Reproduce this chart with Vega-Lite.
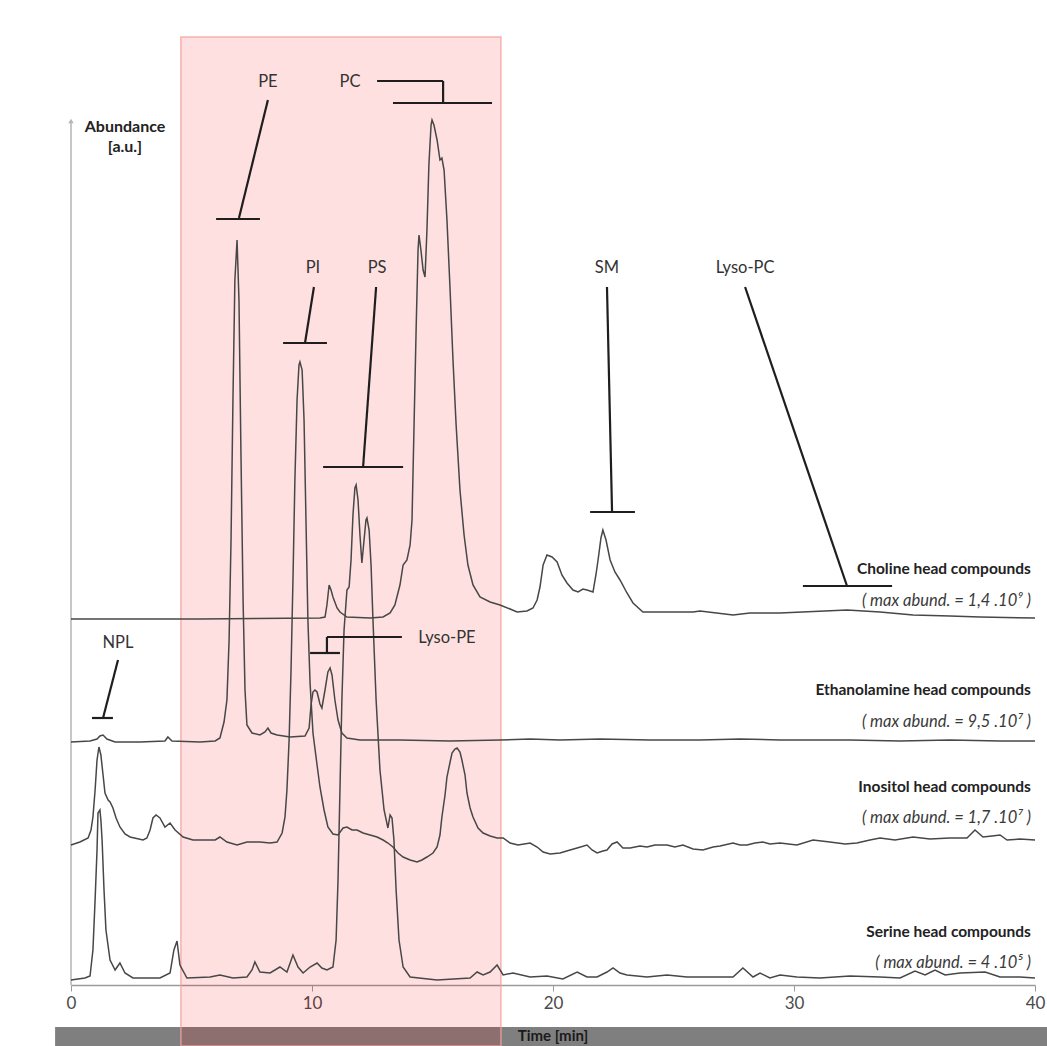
{
 "$schema": "https://vega.github.io/schema/vega-lite/v6.json",
 "width": 964, "height": 985,
 "autosize": {"type": "none"},
 "padding": {"left": 71, "top": 0, "right": 12, "bottom": 61},
 "background": "white",
 "config": {"view": {"stroke": null}, "font": "Lato"},
 "datasets": {
  "traces": [
   {"s":"Choline","x":0,"y":366},{"s":"Choline","x":5.35,"y":366},{"s":"Choline","x":10.33,"y":367},{"s":"Choline","x":10.54,"y":368},{"s":"Choline","x":10.62,"y":380},{"s":"Choline","x":10.71,"y":400},{"s":"Choline","x":10.79,"y":395},{"s":"Choline","x":10.87,"y":388},{"s":"Choline","x":11.04,"y":377},{"s":"Choline","x":11.16,"y":373},{"s":"Choline","x":11.45,"y":368},{"s":"Choline","x":12.41,"y":367},{"s":"Choline","x":12.95,"y":368},{"s":"Choline","x":13.24,"y":372},{"s":"Choline","x":13.44,"y":380},{"s":"Choline","x":13.65,"y":400},{"s":"Choline","x":13.78,"y":420},{"s":"Choline","x":13.94,"y":425},{"s":"Choline","x":14.07,"y":440},{"s":"Choline","x":14.15,"y":465},{"s":"Choline","x":14.23,"y":555},{"s":"Choline","x":14.32,"y":655},{"s":"Choline","x":14.40,"y":735},{"s":"Choline","x":14.44,"y":750},{"s":"Choline","x":14.52,"y":735},{"s":"Choline","x":14.61,"y":715},{"s":"Choline","x":14.69,"y":708},{"s":"Choline","x":14.77,"y":755},{"s":"Choline","x":14.85,"y":820},{"s":"Choline","x":14.94,"y":860},{"s":"Choline","x":14.98,"y":865},{"s":"Choline","x":15.06,"y":860},{"s":"Choline","x":15.19,"y":845},{"s":"Choline","x":15.31,"y":825},{"s":"Choline","x":15.39,"y":827},{"s":"Choline","x":15.48,"y":815},{"s":"Choline","x":15.60,"y":765},{"s":"Choline","x":15.73,"y":695},{"s":"Choline","x":15.85,"y":625},{"s":"Choline","x":15.98,"y":560},{"s":"Choline","x":16.14,"y":495},{"s":"Choline","x":16.31,"y":450},{"s":"Choline","x":16.47,"y":420},{"s":"Choline","x":16.68,"y":400},{"s":"Choline","x":16.97,"y":388},{"s":"Choline","x":17.39,"y":383},{"s":"Choline","x":17.80,"y":380},{"s":"Choline","x":18.22,"y":376},{"s":"Choline","x":18.51,"y":373},{"s":"Choline","x":18.92,"y":374},{"s":"Choline","x":19.17,"y":377},{"s":"Choline","x":19.34,"y":385},{"s":"Choline","x":19.46,"y":398},{"s":"Choline","x":19.59,"y":420},{"s":"Choline","x":19.75,"y":430},{"s":"Choline","x":19.96,"y":428},{"s":"Choline","x":20.17,"y":423},{"s":"Choline","x":20.37,"y":410},{"s":"Choline","x":20.58,"y":402},{"s":"Choline","x":20.83,"y":395},{"s":"Choline","x":21.04,"y":393},{"s":"Choline","x":21.24,"y":396},{"s":"Choline","x":21.41,"y":395},{"s":"Choline","x":21.66,"y":393},{"s":"Choline","x":21.78,"y":410},{"s":"Choline","x":21.87,"y":425},{"s":"Choline","x":21.99,"y":447},{"s":"Choline","x":22.07,"y":455},{"s":"Choline","x":22.20,"y":445},{"s":"Choline","x":22.37,"y":425},{"s":"Choline","x":22.57,"y":413},{"s":"Choline","x":22.78,"y":405},{"s":"Choline","x":23.07,"y":392},{"s":"Choline","x":23.32,"y":382},{"s":"Choline","x":23.73,"y":373},{"s":"Choline","x":24.44,"y":373},{"s":"Choline","x":25.81,"y":373},{"s":"Choline","x":26.10,"y":374},{"s":"Choline","x":27.47,"y":370},{"s":"Choline","x":28.17,"y":372},{"s":"Choline","x":29.42,"y":372},{"s":"Choline","x":32.2,"y":375},{"s":"Choline","x":33.57,"y":373},{"s":"Choline","x":34.94,"y":370},{"s":"Choline","x":36.47,"y":369},{"s":"Choline","x":37.72,"y":368},{"s":"Choline","x":40,"y":367},
   {"s":"Ethanolamine","x":0,"y":243},{"s":"Ethanolamine","x":0.79,"y":244},{"s":"Ethanolamine","x":1.08,"y":246},{"s":"Ethanolamine","x":1.20,"y":249},{"s":"Ethanolamine","x":1.33,"y":250},{"s":"Ethanolamine","x":1.49,"y":246},{"s":"Ethanolamine","x":1.83,"y":243},{"s":"Ethanolamine","x":2.86,"y":243},{"s":"Ethanolamine","x":3.90,"y":244},{"s":"Ethanolamine","x":4.02,"y":248},{"s":"Ethanolamine","x":4.19,"y":244},{"s":"Ethanolamine","x":5.35,"y":243},{"s":"Ethanolamine","x":5.98,"y":244},{"s":"Ethanolamine","x":6.18,"y":247},{"s":"Ethanolamine","x":6.35,"y":263},{"s":"Ethanolamine","x":6.47,"y":285},{"s":"Ethanolamine","x":6.56,"y":345},{"s":"Ethanolamine","x":6.64,"y":445},{"s":"Ethanolamine","x":6.72,"y":585},{"s":"Ethanolamine","x":6.80,"y":705},{"s":"Ethanolamine","x":6.89,"y":745},{"s":"Ethanolamine","x":6.97,"y":685},{"s":"Ethanolamine","x":7.05,"y":535},{"s":"Ethanolamine","x":7.14,"y":385},{"s":"Ethanolamine","x":7.22,"y":295},{"s":"Ethanolamine","x":7.30,"y":260},{"s":"Ethanolamine","x":7.51,"y":252},{"s":"Ethanolamine","x":7.84,"y":250},{"s":"Ethanolamine","x":8.05,"y":253},{"s":"Ethanolamine","x":8.17,"y":257},{"s":"Ethanolamine","x":8.30,"y":252},{"s":"Ethanolamine","x":8.55,"y":250},{"s":"Ethanolamine","x":9.09,"y":248},{"s":"Ethanolamine","x":9.71,"y":249},{"s":"Ethanolamine","x":9.88,"y":257},{"s":"Ethanolamine","x":9.96,"y":280},{"s":"Ethanolamine","x":10.04,"y":293},{"s":"Ethanolamine","x":10.12,"y":295},{"s":"Ethanolamine","x":10.21,"y":293},{"s":"Ethanolamine","x":10.33,"y":281},{"s":"Ethanolamine","x":10.41,"y":277},{"s":"Ethanolamine","x":10.54,"y":295},{"s":"Ethanolamine","x":10.66,"y":313},{"s":"Ethanolamine","x":10.75,"y":317},{"s":"Ethanolamine","x":10.83,"y":310},{"s":"Ethanolamine","x":10.95,"y":285},{"s":"Ethanolamine","x":11.08,"y":265},{"s":"Ethanolamine","x":11.24,"y":252},{"s":"Ethanolamine","x":11.45,"y":247},{"s":"Ethanolamine","x":11.99,"y":245},{"s":"Ethanolamine","x":13.65,"y":245},{"s":"Ethanolamine","x":15.73,"y":244},{"s":"Ethanolamine","x":17.80,"y":245},{"s":"Ethanolamine","x":19.05,"y":246},{"s":"Ethanolamine","x":20.29,"y":245},{"s":"Ethanolamine","x":21.95,"y":246},{"s":"Ethanolamine","x":24.02,"y":245},{"s":"Ethanolamine","x":26.10,"y":245},{"s":"Ethanolamine","x":27.76,"y":246},{"s":"Ethanolamine","x":29.42,"y":245},{"s":"Ethanolamine","x":32.32,"y":245},{"s":"Ethanolamine","x":34.40,"y":244},{"s":"Ethanolamine","x":36.47,"y":245},{"s":"Ethanolamine","x":38.55,"y":244},{"s":"Ethanolamine","x":40,"y":244},
   {"s":"Inositol","x":0,"y":140},{"s":"Inositol","x":0.37,"y":143},{"s":"Inositol","x":0.71,"y":147},{"s":"Inositol","x":0.83,"y":155},{"s":"Inositol","x":0.91,"y":168},{"s":"Inositol","x":1.00,"y":195},{"s":"Inositol","x":1.08,"y":225},{"s":"Inositol","x":1.16,"y":238},{"s":"Inositol","x":1.24,"y":230},{"s":"Inositol","x":1.33,"y":210},{"s":"Inositol","x":1.41,"y":192},{"s":"Inositol","x":1.54,"y":185},{"s":"Inositol","x":1.62,"y":183},{"s":"Inositol","x":1.74,"y":177},{"s":"Inositol","x":1.87,"y":167},{"s":"Inositol","x":2.03,"y":158},{"s":"Inositol","x":2.24,"y":151},{"s":"Inositol","x":2.45,"y":148},{"s":"Inositol","x":2.99,"y":145},{"s":"Inositol","x":3.15,"y":147},{"s":"Inositol","x":3.28,"y":155},{"s":"Inositol","x":3.40,"y":167},{"s":"Inositol","x":3.53,"y":170},{"s":"Inositol","x":3.69,"y":167},{"s":"Inositol","x":3.90,"y":158},{"s":"Inositol","x":4.11,"y":162},{"s":"Inositol","x":4.32,"y":155},{"s":"Inositol","x":4.65,"y":148},{"s":"Inositol","x":5.06,"y":145},{"s":"Inositol","x":5.64,"y":145},{"s":"Inositol","x":5.98,"y":145},{"s":"Inositol","x":6.18,"y":148},{"s":"Inositol","x":6.47,"y":143},{"s":"Inositol","x":6.89,"y":140},{"s":"Inositol","x":7.30,"y":143},{"s":"Inositol","x":7.84,"y":143},{"s":"Inositol","x":8.26,"y":142},{"s":"Inositol","x":8.55,"y":143},{"s":"Inositol","x":8.76,"y":152},{"s":"Inositol","x":8.88,"y":168},{"s":"Inositol","x":8.96,"y":195},{"s":"Inositol","x":9.05,"y":245},{"s":"Inositol","x":9.13,"y":315},{"s":"Inositol","x":9.21,"y":405},{"s":"Inositol","x":9.29,"y":505},{"s":"Inositol","x":9.38,"y":585},{"s":"Inositol","x":9.46,"y":620},{"s":"Inositol","x":9.50,"y":623},{"s":"Inositol","x":9.59,"y":615},{"s":"Inositol","x":9.67,"y":565},{"s":"Inositol","x":9.75,"y":465},{"s":"Inositol","x":9.83,"y":365},{"s":"Inositol","x":9.92,"y":302},{"s":"Inositol","x":10.04,"y":252},{"s":"Inositol","x":10.21,"y":220},{"s":"Inositol","x":10.33,"y":198},{"s":"Inositol","x":10.50,"y":175},{"s":"Inositol","x":10.66,"y":158},{"s":"Inositol","x":10.87,"y":151},{"s":"Inositol","x":11.08,"y":150},{"s":"Inositol","x":11.29,"y":157},{"s":"Inositol","x":11.45,"y":158},{"s":"Inositol","x":11.66,"y":155},{"s":"Inositol","x":11.87,"y":155},{"s":"Inositol","x":12.12,"y":152},{"s":"Inositol","x":12.41,"y":150},{"s":"Inositol","x":12.70,"y":148},{"s":"Inositol","x":12.95,"y":145},{"s":"Inositol","x":13.15,"y":142},{"s":"Inositol","x":13.36,"y":138},{"s":"Inositol","x":13.57,"y":132},{"s":"Inositol","x":13.78,"y":128},{"s":"Inositol","x":14.07,"y":125},{"s":"Inositol","x":14.36,"y":123},{"s":"Inositol","x":14.56,"y":125},{"s":"Inositol","x":14.77,"y":128},{"s":"Inositol","x":15.02,"y":132},{"s":"Inositol","x":15.19,"y":138},{"s":"Inositol","x":15.31,"y":150},{"s":"Inositol","x":15.39,"y":168},{"s":"Inositol","x":15.52,"y":190},{"s":"Inositol","x":15.60,"y":208},{"s":"Inositol","x":15.73,"y":223},{"s":"Inositol","x":15.81,"y":232},{"s":"Inositol","x":15.93,"y":236},{"s":"Inositol","x":16.02,"y":237},{"s":"Inositol","x":16.14,"y":233},{"s":"Inositol","x":16.22,"y":225},{"s":"Inositol","x":16.35,"y":210},{"s":"Inositol","x":16.43,"y":192},{"s":"Inositol","x":16.56,"y":177},{"s":"Inositol","x":16.68,"y":168},{"s":"Inositol","x":16.89,"y":157},{"s":"Inositol","x":17.10,"y":152},{"s":"Inositol","x":17.39,"y":149},{"s":"Inositol","x":17.68,"y":147},{"s":"Inositol","x":17.93,"y":147},{"s":"Inositol","x":18.22,"y":142},{"s":"Inositol","x":18.55,"y":140},{"s":"Inositol","x":19.05,"y":142},{"s":"Inositol","x":19.34,"y":138},{"s":"Inositol","x":19.59,"y":133},{"s":"Inositol","x":19.88,"y":131},{"s":"Inositol","x":20.29,"y":132},{"s":"Inositol","x":20.71,"y":135},{"s":"Inositol","x":21.0,"y":137},{"s":"Inositol","x":21.41,"y":140},{"s":"Inositol","x":21.62,"y":135},{"s":"Inositol","x":21.83,"y":132},{"s":"Inositol","x":22.07,"y":134},{"s":"Inositol","x":22.24,"y":135},{"s":"Inositol","x":22.45,"y":141},{"s":"Inositol","x":22.66,"y":143},{"s":"Inositol","x":22.90,"y":137},{"s":"Inositol","x":23.20,"y":137},{"s":"Inositol","x":23.61,"y":139},{"s":"Inositol","x":23.90,"y":138},{"s":"Inositol","x":24.23,"y":140},{"s":"Inositol","x":24.73,"y":140},{"s":"Inositol","x":25.06,"y":138},{"s":"Inositol","x":25.39,"y":140},{"s":"Inositol","x":25.81,"y":136},{"s":"Inositol","x":26.22,"y":135},{"s":"Inositol","x":26.64,"y":138},{"s":"Inositol","x":26.93,"y":139},{"s":"Inositol","x":27.47,"y":142},{"s":"Inositol","x":27.76,"y":140},{"s":"Inositol","x":28.05,"y":140},{"s":"Inositol","x":28.38,"y":142},{"s":"Inositol","x":28.71,"y":143},{"s":"Inositol","x":29.0,"y":141},{"s":"Inositol","x":29.42,"y":142},{"s":"Inositol","x":30.12,"y":140},{"s":"Inositol","x":30.79,"y":145},{"s":"Inositol","x":31.49,"y":143},{"s":"Inositol","x":32.12,"y":141},{"s":"Inositol","x":32.61,"y":142},{"s":"Inositol","x":33.15,"y":145},{"s":"Inositol","x":33.57,"y":147},{"s":"Inositol","x":34.19,"y":145},{"s":"Inositol","x":34.94,"y":148},{"s":"Inositol","x":35.64,"y":146},{"s":"Inositol","x":36.47,"y":147},{"s":"Inositol","x":37.18,"y":147},{"s":"Inositol","x":37.51,"y":155},{"s":"Inositol","x":37.84,"y":148},{"s":"Inositol","x":38.22,"y":149},{"s":"Inositol","x":38.55,"y":150},{"s":"Inositol","x":38.84,"y":145},{"s":"Inositol","x":39.38,"y":146},{"s":"Inositol","x":40,"y":145},
   {"s":"Serine","x":0,"y":5},{"s":"Serine","x":0.58,"y":7},{"s":"Serine","x":0.79,"y":9},{"s":"Serine","x":0.91,"y":35},{"s":"Serine","x":1.00,"y":85},{"s":"Serine","x":1.08,"y":135},{"s":"Serine","x":1.12,"y":172},{"s":"Serine","x":1.20,"y":175},{"s":"Serine","x":1.24,"y":165},{"s":"Serine","x":1.29,"y":145},{"s":"Serine","x":1.37,"y":95},{"s":"Serine","x":1.45,"y":55},{"s":"Serine","x":1.62,"y":25},{"s":"Serine","x":1.83,"y":15},{"s":"Serine","x":2.03,"y":22},{"s":"Serine","x":2.24,"y":12},{"s":"Serine","x":2.57,"y":7},{"s":"Serine","x":3.69,"y":7},{"s":"Serine","x":4.11,"y":12},{"s":"Serine","x":4.27,"y":35},{"s":"Serine","x":4.40,"y":44},{"s":"Serine","x":4.52,"y":20},{"s":"Serine","x":4.81,"y":7},{"s":"Serine","x":5.77,"y":8},{"s":"Serine","x":6.18,"y":10},{"s":"Serine","x":6.72,"y":7},{"s":"Serine","x":7.30,"y":8},{"s":"Serine","x":7.51,"y":15},{"s":"Serine","x":7.63,"y":23},{"s":"Serine","x":7.84,"y":13},{"s":"Serine","x":8.26,"y":12},{"s":"Serine","x":8.67,"y":18},{"s":"Serine","x":8.96,"y":13},{"s":"Serine","x":9.21,"y":30},{"s":"Serine","x":9.42,"y":18},{"s":"Serine","x":9.63,"y":12},{"s":"Serine","x":9.92,"y":18},{"s":"Serine","x":10.21,"y":22},{"s":"Serine","x":10.41,"y":17},{"s":"Serine","x":10.62,"y":15},{"s":"Serine","x":10.87,"y":18},{"s":"Serine","x":11.0,"y":45},{"s":"Serine","x":11.08,"y":105},{"s":"Serine","x":11.16,"y":195},{"s":"Serine","x":11.24,"y":285},{"s":"Serine","x":11.33,"y":355},{"s":"Serine","x":11.45,"y":395},{"s":"Serine","x":11.54,"y":398},{"s":"Serine","x":11.62,"y":425},{"s":"Serine","x":11.70,"y":470},{"s":"Serine","x":11.78,"y":497},{"s":"Serine","x":11.83,"y":500},{"s":"Serine","x":11.91,"y":485},{"s":"Serine","x":11.99,"y":450},{"s":"Serine","x":12.07,"y":422},{"s":"Serine","x":12.16,"y":445},{"s":"Serine","x":12.24,"y":465},{"s":"Serine","x":12.28,"y":467},{"s":"Serine","x":12.37,"y":455},{"s":"Serine","x":12.45,"y":420},{"s":"Serine","x":12.53,"y":365},{"s":"Serine","x":12.66,"y":285},{"s":"Serine","x":12.82,"y":215},{"s":"Serine","x":12.99,"y":175},{"s":"Serine","x":13.15,"y":157},{"s":"Serine","x":13.24,"y":170},{"s":"Serine","x":13.32,"y":167},{"s":"Serine","x":13.40,"y":145},{"s":"Serine","x":13.49,"y":95},{"s":"Serine","x":13.61,"y":45},{"s":"Serine","x":13.78,"y":18},{"s":"Serine","x":14.07,"y":8},{"s":"Serine","x":15.19,"y":5},{"s":"Serine","x":16.56,"y":7},{"s":"Serine","x":16.85,"y":13},{"s":"Serine","x":17.10,"y":10},{"s":"Serine","x":17.39,"y":13},{"s":"Serine","x":17.68,"y":20},{"s":"Serine","x":17.93,"y":10},{"s":"Serine","x":18.34,"y":12},{"s":"Serine","x":19.05,"y":8},{"s":"Serine","x":19.75,"y":9},{"s":"Serine","x":20.41,"y":6},{"s":"Serine","x":21.0,"y":13},{"s":"Serine","x":21.41,"y":8},{"s":"Serine","x":21.83,"y":8},{"s":"Serine","x":22.24,"y":13},{"s":"Serine","x":22.49,"y":17},{"s":"Serine","x":22.78,"y":12},{"s":"Serine","x":23.07,"y":10},{"s":"Serine","x":23.90,"y":8},{"s":"Serine","x":24.73,"y":10},{"s":"Serine","x":25.56,"y":8},{"s":"Serine","x":26.64,"y":8},{"s":"Serine","x":27.47,"y":8},{"s":"Serine","x":27.88,"y":17},{"s":"Serine","x":28.30,"y":8},{"s":"Serine","x":28.59,"y":12},{"s":"Serine","x":29.0,"y":7},{"s":"Serine","x":29.42,"y":10},{"s":"Serine","x":30.12,"y":8},{"s":"Serine","x":31.08,"y":7},{"s":"Serine","x":32.32,"y":9},{"s":"Serine","x":33.57,"y":8},{"s":"Serine","x":34.40,"y":7},{"s":"Serine","x":35.02,"y":14},{"s":"Serine","x":35.44,"y":10},{"s":"Serine","x":35.85,"y":15},{"s":"Serine","x":36.27,"y":10},{"s":"Serine","x":36.89,"y":12},{"s":"Serine","x":37.93,"y":13},{"s":"Serine","x":38.55,"y":8},{"s":"Serine","x":39.38,"y":8},{"s":"Serine","x":40,"y":7}
  ],
  "segs": [
   {"x":8.17,"y":885,"x2":6.97,"y2":767},{"x":6.02,"y":766,"x2":7.84,"y2":766},
   {"x":12.70,"y":904,"x2":15.44,"y2":904},{"x":15.44,"y":904,"x2":15.44,"y2":882},{"x":13.36,"y":882,"x2":17.47,"y2":882},
   {"x":10.08,"y":698,"x2":9.71,"y2":642},{"x":8.80,"y":642,"x2":10.62,"y2":642},
   {"x":12.66,"y":698,"x2":12.12,"y2":518},{"x":10.46,"y":518,"x2":13.78,"y2":518},
   {"x":13.73,"y":348,"x2":10.62,"y2":348},{"x":10.62,"y":348,"x2":10.62,"y2":332},{"x":9.92,"y":332,"x2":11.16,"y2":332},
   {"x":1.95,"y":325,"x2":1.33,"y2":267},{"x":0.87,"y":267,"x2":1.74,"y2":267},
   {"x":22.24,"y":698,"x2":22.45,"y2":473},{"x":21.54,"y":473,"x2":23.40,"y2":473},
   {"x":27.97,"y":698,"x2":32.2,"y2":399},{"x":30.37,"y":399,"x2":34.07,"y2":399}
  ],
  "peaks": [
   {"x":8.17,"y":903,"label":"PE"},{"x":11.58,"y":903,"label":"PC"},{"x":10.04,"y":717,"label":"PI"},{"x":12.70,"y":717,"label":"PS"},
   {"x":15.60,"y":347,"label":"Lyso-PE"},{"x":1.95,"y":342,"label":"NPL"},{"x":22.24,"y":717,"label":"SM"},{"x":27.97,"y":717,"label":"Lyso-PC"}
  ],
  "names": [
   {"x":39.83,"y":416,"label":"Choline head compounds"},
   {"x":39.83,"y":295,"label":"Ethanolamine head compounds"},
   {"x":39.83,"y":198,"label":"Inositol head compounds"},
   {"x":39.83,"y":53,"label":"Serine head compounds"}
  ],
  "maxes": [
   {"x":39.83,"y":384,"label":"( max abund. = 1,4 .10⁹ )"},
   {"x":39.83,"y":263,"label":"( max abund. = 9,5 .10⁷ )"},
   {"x":39.83,"y":167,"label":"( max abund. = 1,7 .10⁷ )"},
   {"x":39.83,"y":22,"label":"( max abund. = 4 .10⁵ )"}
  ]
 },
 "encoding": {
  "x": {"field": "x", "type": "quantitative", "scale": {"domain": [0, 40], "nice": false, "zero": false},
        "axis": {"title": null, "values": [0, 10, 20, 30, 40], "grid": false, "domainColor": "#9a9a9a", "domainWidth": 1.5, "tickColor": "#9a9a9a", "tickSize": 6, "labelFontSize": 17, "labelColor": "#4a4a4a", "labelPadding": 4, "labelFlush": false, "labelOverlap": false, "labelFont": "Lato"}},
  "y": {"field": "y", "type": "quantitative", "scale": {"domain": [0, 985], "nice": false, "zero": false}, "axis": null}
 },
 "layer": [
  {"data": {"values": [{"x": -0.66, "x2": 40.6, "y": -42, "y2": -61}]}, "mark": {"type": "rect", "color": "#7f7f7f"},
   "encoding": {"x2": {"field": "x2"}, "y2": {"field": "y2"}}},
  {"data": {"values": [{"x": 20, "y": -51, "label": "Time [min]"}]}, "mark": {"type": "text", "fontSize": 15, "fontWeight": "bold", "color": "#1a1a1a", "align": "center", "baseline": "middle"},
   "encoding": {"text": {"field": "label"}}},
  {"data": {"values": [{"x": 4.56, "x2": 17.84, "y": 948, "y2": -61}]}, "mark": {"type": "rect", "fill": "#ff0000", "fillOpacity": 0.12, "stroke": "#f4a0a0", "strokeWidth": 1.5, "strokeOpacity": 0.8},
   "encoding": {"x2": {"field": "x2"}, "y2": {"field": "y2"}}},
  {"data": {"values": [{"x": 0, "y": 0, "y2": 862}]}, "mark": {"type": "rule", "color": "#b5b5b5", "strokeWidth": 1.5},
   "encoding": {"y2": {"field": "y2"}}},
  {"data": {"values": [{"x": 0, "y": 864}]}, "mark": {"type": "point", "shape": "triangle-up", "filled": true, "size": 30, "color": "#b5b5b5", "opacity": 1},
   "encoding": {}},
  {"data": {"name": "traces"}, "mark": {"type": "line", "color": "#474747", "strokeWidth": 1.5},
   "encoding": {"detail": {"field": "s"}}},
  {"data": {"name": "segs"}, "mark": {"type": "rule", "color": "#1e1e1e", "strokeWidth": 2.2},
   "encoding": {"x2": {"field": "x2"}, "y2": {"field": "y2"}}},
  {"data": {"name": "peaks"}, "mark": {"type": "text", "fontSize": 16.5, "color": "#333333", "align": "center", "baseline": "middle"},
   "encoding": {"text": {"field": "label"}}},
  {"data": {"name": "names"}, "mark": {"type": "text", "fontSize": 15.5, "fontWeight": "bold", "color": "#222222", "align": "right", "baseline": "middle"},
   "encoding": {"text": {"field": "label"}}},
  {"data": {"name": "maxes"}, "mark": {"type": "text", "fontSize": 16.5, "fontStyle": "italic", "color": "#3a3a3a", "align": "right", "baseline": "middle"},
   "encoding": {"text": {"field": "label"}}},
  {"data": {"values": [{"x": 2.24, "y": 858, "label": "Abundance"}, {"x": 2.24, "y": 838, "label": "[a.u.]"}]}, "mark": {"type": "text", "fontSize": 16, "fontWeight": "bold", "color": "#222222", "align": "center", "baseline": "middle"},
   "encoding": {"text": {"field": "label"}}}
 ]
}
